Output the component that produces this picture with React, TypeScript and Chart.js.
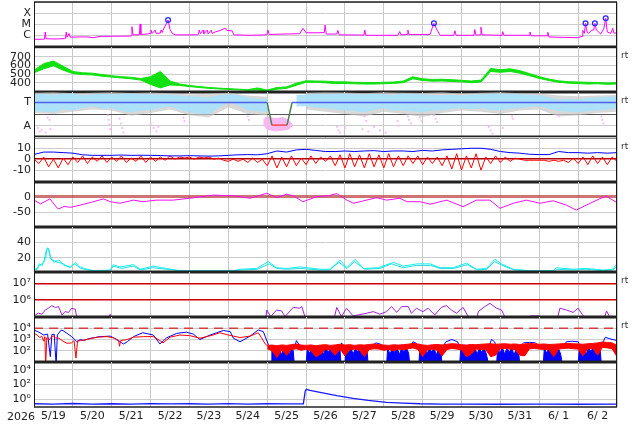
import { useEffect, useRef } from "react"
import { Chart, registerables } from "chart.js"

Chart.register(...registerables)
Chart.defaults.font.family = "DejaVu Sans, sans-serif"

// x axis: days since 5/19 00:00, labels sit at noon
const yearLabel = "2026"
const dayLabels = ["5/19", "5/20", "5/21", "5/22", "5/23", "5/24", "5/25", "5/26", "5/27", "5/28", "5/29", "5/30", "5/31", "6/ 1", "6/ 2"]

// panel 1: X-ray flux (W/m2)
const xrayTicks = [1e-7, 1e-6, 1e-5, 1e-4, 1e-3]
const xrayTickLabels = ["", "C", "M", "X", ""]
const xray = [
  [0, 4.3e-7], [0.24, 4.4e-7], [0.27, 4.5e-7], [0.29, 2e-6], [0.31, 4.8e-7], [0.57, 4.6e-7], [0.78, 5e-7], [0.81, 5.2e-7],
  [0.83, 2e-6], [0.85, 6.5e-7], [0.9, 1.5e-6], [0.93, 6.8e-7], [1.37, 7.2e-7], [1.52, 6e-7], [1.7, 8e-7], [2.09, 8.2e-7],
  [2.47, 8.5e-7], [2.5, 9e-7], [2.52, 6e-6], [2.55, 1.1e-6], [2.71, 1.1e-6], [2.73, 1.1e-5], [2.75, 1.2e-6], [2.91, 1.3e-6],
  [2.99, 1.5e-6], [3.01, 3e-6], [3.04, 1.5e-6], [3.12, 3e-6], [3.14, 1.5e-6], [3.25, 1.6e-6], [3.27, 3e-6], [3.3, 1.8e-6],
  [3.32, 3e-6], [3.4, 1.1e-5], [3.45, 2.5e-5], [3.5, 3.5e-6], [3.55, 1.6e-6], [3.63, 1.1e-6], [4.2, 1.1e-6], [4.23, 1.2e-6],
  [4.25, 3e-6], [4.28, 1.4e-6], [4.35, 3e-6], [4.37, 1.4e-6], [4.46, 3e-6], [4.48, 1.3e-6], [4.56, 3e-6], [4.58, 1.5e-6],
  [4.66, 2e-6], [4.79, 2.8e-6], [4.92, 4.4e-6], [4.96, 2.8e-6], [5.1, 2.5e-6], [5.14, 1.1e-6], [5.56, 1e-6], [5.99, 1.1e-6],
  [6.02, 3e-6], [6.05, 1.2e-6], [6.46, 1.3e-6], [6.84, 1.4e-6], [6.92, 4.4e-6], [7.0, 1.7e-6], [7.36, 1.7e-6], [7.47, 1.8e-6],
  [7.49, 8.8e-6], [7.52, 1.3e-6], [7.79, 1.3e-6], [7.82, 2.8e-6], [7.85, 1.1e-6], [8.49, 1.05e-6], [8.51, 3e-6], [8.54, 1e-6],
  [9.36, 1e-6], [9.41, 2.2e-6], [9.44, 1.1e-6], [9.6, 1.2e-6], [9.62, 3e-6], [9.65, 1.2e-6], [10.19, 1.2e-6], [10.24, 4e-6],
  [10.29, 1.26e-5], [10.37, 3e-6], [10.45, 1e-6], [10.8, 1e-6], [10.83, 2.6e-6], [10.86, 1e-6], [11.32, 1e-6], [11.34, 3.4e-6],
  [11.37, 1.05e-6], [11.48, 1.1e-6], [11.5, 5.5e-6], [11.53, 1.1e-6], [12.04, 1e-6], [12.06, 2.2e-6], [12.09, 1e-6], [12.74, 1e-6],
  [12.76, 2e-6], [12.79, 9e-7], [13.2, 9e-7], [13.22, 1.9e-6], [13.25, 7e-7], [13.99, 6e-7], [14.1, 8e-7], [14.12, 2.8e-6],
  [14.16, 1.5e-6], [14.19, 1.26e-5], [14.23, 2e-6], [14.27, 1.5e-6], [14.35, 3e-6], [14.4, 3e-6], [14.43, 1.26e-5], [14.47, 3e-6],
  [14.5, 2.5e-6], [14.58, 1.3e-6], [14.66, 4e-6], [14.71, 3.6e-5], [14.75, 2e-6], [14.84, 1.5e-6], [14.89, 4.4e-6], [14.92, 1.6e-6],
  [15, 1.6e-6],
]
const flarePeaks = [[3.45, 2.5e-5], [10.29, 1.26e-5], [14.19, 1.26e-5], [14.43, 1.26e-5], [14.71, 3.6e-5]]

// panel 2: solar wind speed (km/s), every 6 h, low / high of the noisy trace
const speedTicks = [300, 400, 500, 600, 700, 800]
const speedTickLabels = ["", "400", "500", "600", "700", ""]
const speedLo = [515, 560, 595, 545, 505, 495, 490, 475, 465, 455, 445, 430, 380, 340, 375, 368, 355, 345, 335, 328, 323, 318, 312, 314, 302, 325, 335, 370, 405, 405, 398, 392, 390, 388, 385, 385, 388, 392, 400, 445, 425, 418, 420, 415, 410, 400, 408, 530, 520, 530, 510, 480, 450, 425, 405, 395, 390, 385, 388, 382, 385]
const speedHi = [545, 620, 650, 590, 530, 515, 510, 495, 480, 470, 462, 448, 470, 530, 420, 385, 368, 356, 345, 338, 332, 326, 320, 340, 315, 345, 352, 395, 422, 420, 418, 410, 410, 405, 403, 402, 405, 408, 420, 468, 445, 438, 440, 435, 428, 420, 430, 565, 550, 560, 540, 505, 470, 442, 422, 412, 408, 405, 402, 398, 400]

// panel 3: sector polarity (T = 1, A = -1)
const sectorTicks = [-1, 0, 1]
const sectorTickLabels = ["A", "", "T"]
const sectorLine = [[0, 1], [6.0, 1], [6.12, -0.95], [6.51, -0.95], [6.64, 1], [15, 1]]
const cyanTop = [1.66, 1.7, 1.62, 1.72, 1.74, 1.6, 1.66, 1.7, 1.66, 1.72, 1.74, 1.68, 1.66, 1.62, 1.66, 1.55, 1.49, 1.45, 1.4, 1.58, 1.66, 1.6, 1.4, 1.3, 1.23, null, null, 1.6, 1.66, 1.7, 1.66, 1.72, 1.74, 1.68, 1.66, 1.7, 1.66, 1.62, 1.74, 1.7, 1.66, 1.6, 1.57, 1.62, 1.57, 1.66, 1.66, 1.72, 1.74, 1.7, 1.66, 1.62, 1.57, 1.4, 1.23, 1.3, 1.23, 1.35, 1.4, 1.45, 1.49]
const cyanBot = [0.3, 0.25, 0.2, 0.45, 0.38, 0.55, 0.72, 0.5, 0.55, 0.3, 0.21, 0.35, 0.38, 0.55, 0.72, 0.4, 0.21, 0.1, 0.04, 0.6, 1.06, 0.8, 0.38, 0.3, 0.21, null, null, 0.7, 0.72, 0.6, 0.55, 0.45, 0.38, 0.3, 0.21, 0.4, 0.55, 0.35, 0.38, 0.25, 0.21, 0.35, 0.38, 0.5, 0.55, 0.45, 0.55, 0.4, 0.38, 0.5, 0.55, 0.65, 0.72, 0.5, 0.3, 0.25, 0.21, 0.3, 0.38, 0.45, 0.55]
const grayTop = [1.85, 1.88, 1.8, 1.85, 1.88, 1.82, 1.86, 1.8, 1.7, 1.75, 1.85, 1.6, 1.5, null, 1.85, 1.88, 1.86, 1.8, 1.88, 1.85, 1.82, 1.88, 1.75, 1.85, 1.88, 1.8, 1.78, 1.6, 1.55, 1.6, 1.65]
const grayBot = [0.1, 0.0, 0.2, 0.4, 0.3, -0.15, 0.1, 0.4, -0.1, -0.3, 0.6, 0.0, -0.1, null, 0.4, 0.2, 0.0, -0.2, 0.2, 0.0, -0.25, 0.1, 0.3, 0.2, 0.0, 0.3, 0.4, -0.2, -0.1, 0.1, 0.2]
const pinkDipTop = [[5.9, -0.5], [6.0, -0.2], [6.2, -0.4], [6.4, -0.3], [6.55, -0.5], [6.65, -0.9]]
const pinkDipBot = [[5.9, -0.9], [6.0, -1.3], [6.2, -1.45], [6.4, -1.4], [6.55, -1.3], [6.65, -1.0]]
const pinkPoints = [
  [0.1, -1.2], [0.15, -1.5], [0.2, -1.35], [0.3, -1.6], [0.35, -0.3], [0.4, -0.5], [0.42, -1.3], [1.9, -0.1], [1.92, -0.5],
  [1.94, -0.9], [1.96, -1.3], [2.2, -0.4], [2.24, -0.8], [2.27, -1.2], [2.3, -1.6], [3.0, -0.9], [3.08, -1.2], [3.15, -1.5],
  [3.2, -1.1], [3.85, -0.3], [3.87, -0.6], [5.5, -0.2], [5.53, -0.5], [7.8, -1.1], [7.83, -1.4], [7.87, -1.6], [8.0, -1.2],
  [8.45, -1.3], [8.5, -0.2], [8.55, -0.6], [8.6, -1.5], [8.75, -1.1], [8.9, -1.4], [9.05, -1.6], [9.35, -0.6], [9.38, -1.0],
  [9.62, -0.2], [9.65, -0.5], [9.7, -0.8], [9.93, -0.3], [9.97, -0.6], [10.3, -0.1], [10.33, -0.4], [10.37, -0.7], [11.7, -1.1],
  [11.75, -1.4], [11.8, -1.7], [12.06, -1.2], [12.3, -0.2], [12.32, -0.4], [13.5, -0.2], [14.6, -0.2], [14.62, -0.5], [14.65, -0.8],
]

// panel 4: IMF Bt (6 h) and Bz (3 h), nT
const bTicks = [-20, -10, 0, 10, 20]
const bTickLabels = ["", "-10", "0", "10", ""]
const bt = [4.3, 6.5, 6.5, 6, 5.5, 4, 3.5, 3.5, 3.5, 3.8, 3.5, 3.6, 3.5, 3.3, 3, 3, 3.2, 3, 2.8, 3, 3.5, 4, 4.2, 4, 5, 7.5, 6.5, 8.5, 9, 8, 7, 7, 7.5, 7, 7.5, 7.8, 7, 7.5, 7.5, 7, 8, 7.5, 8.5, 9, 9.5, 10, 10, 9, 7, 6, 5.5, 4.5, 4.2, 4.2, 7, 6, 6, 5.5, 6, 5.5, 6]
const bz = [
  0, -4, 2, -7, 0, -8, 1, -5, 2, -3, 3, -4, 2, -2, 3, -3, 2, -2, 3, -3,
  1, -2, 3, -3, 2, -2, 2, -1, 3, 0, 2, 1, 2, 0, 2, 1, 2, 0, 1, -1,
  -2, 0, -2, 0, -3, 1, -3, 0, -6, 3, -8, 2, -7, 3, -6, 1, -5, 3, -4, 2,
  -2, 3, -6, 4, -8, 5, -7, 4, -8, 5, -7, 4, -8, 5, -7, 3, -6, 3, -4, 3,
  -5, 2, -4, 2, -6, 3, -9, 5, -10, 3, -8, 5, -10, 2, -4, 3, -3, 2, -2, 1,
  0, -1, -1, -1, -1, -1, -2, -1, -2, -1, -3, 1, -4, 2, -5, 3, -4, 2, -5, 2,
  -2,
]

// panel 5: Dst (nT)
const dstTicks = [-50, 0]
const dstTickLabels = ["-50", "0"]
const dst = [
  [0, -11], [0.17, -23], [0.41, -7], [0.6, -37], [0.64, -39], [0.77, -31], [0.94, -34], [1.19, -27], [1.53, -16], [1.79, -7],
  [1.96, -16], [2.21, -21], [2.56, -11], [2.81, -16], [3.15, -11], [3.58, -11], [4.01, -5], [4.61, 5], [5.13, 3], [5.56, -5],
  [5.99, 11], [6.24, -3], [6.5, 8], [6.67, 3], [6.92, -16], [7.27, 0], [7.57, 3], [7.79, 10], [8.05, -11], [8.22, -21],
  [8.82, -3], [9.07, -11], [9.42, -5], [9.59, -16], [9.93, -16], [10.19, -24], [10.62, -11], [11.04, -32], [11.38, -11], [11.73, -11],
  [11.99, -37], [12.33, -21], [12.67, -11], [13.02, -21], [13.36, -13], [13.7, -27], [13.95, -43], [14.21, -27], [14.55, -7], [14.72, 2],
  [15, -19],
]

// panel 6: two cyan traces
const cyanTicks = [20, 40]
const cyanTickLabels = ["20", "40"]
const auroraA = [
  [0, 5], [0.09, 5], [0.13, 12], [0.21, 10], [0.3, 20], [0.34, 33], [0.39, 30], [0.42, 22], [0.51, 14], [0.64, 17], [0.77, 10],
  [0.94, 8], [1.07, 14], [1.19, 8], [1.36, 5], [1.53, 3], [1.96, 3], [2.04, 11], [2.21, 8], [2.56, 11], [2.73, 5], [3.07, 9],
  [3.41, 6], [3.75, 3], [4.27, 3], [5.13, 3], [5.3, 5], [5.73, 6], [6.03, 15], [6.24, 7], [6.5, 6], [6.84, 8], [7.36, 5],
  [7.62, 5], [7.87, 17], [8.05, 7], [8.26, 18], [8.48, 6], [8.86, 7], [9.25, 14], [9.5, 9], [9.85, 12], [10.19, 12], [10.45, 7],
  [10.79, 7], [11.13, 13], [11.38, 5], [11.64, 6], [11.86, 18], [12.03, 12], [12.33, 5], [12.76, 3], [13.36, 3], [13.44, 7],
  [13.87, 5], [14.21, 6], [14.64, 4], [14.89, 5], [14.98, 11], [15, 9],
]
const auroraB = [
  [0, 4], [0.1, 7], [0.15, 10], [0.25, 14], [0.32, 30], [0.37, 32], [0.43, 18], [0.52, 16], [0.62, 14], [0.75, 12], [0.92, 7],
  [1.05, 12], [1.2, 6], [1.4, 4], [1.6, 3], [1.95, 4], [2.06, 9], [2.25, 6], [2.55, 9], [2.75, 4], [3.05, 7], [3.4, 5], [3.8, 3],
  [4.3, 3], [5.1, 3], [5.35, 4], [5.75, 5], [6.05, 12], [6.25, 6], [6.5, 5], [6.85, 6], [7.35, 4], [7.6, 4], [7.85, 14], [8.05, 6],
  [8.25, 15], [8.5, 5], [8.9, 6], [9.2, 12], [9.5, 7], [9.85, 10], [10.2, 10], [10.45, 6], [10.8, 6], [11.15, 11], [11.4, 4],
  [11.65, 5], [11.85, 15], [12.05, 10], [12.35, 4], [12.8, 3], [13.4, 3], [13.45, 5], [13.9, 4], [14.2, 5], [14.65, 3], [14.9, 4], [15, 9],
]

// panel 7: purple flux with 1e6 / 1e7 thresholds
const fluxTicks = [1e6, 1e7]
const fluxTickLabels = ["10⁶", "10⁷"]
const purple = [
  [0, 1.26e5], [0.03, 1.26e5], [0.12, 1.6e5], [0.2, 1.4e5], [0.29, 2.5e5], [0.37, 3.2e5], [0.46, 4.6e5], [0.55, 3.5e5], [0.63, 4e5],
  [0.72, 1.26e5], [0.8, 2e5], [0.89, 1.8e5], [0.97, 3.2e5], [1.06, 2.8e5], [1.12, 5e4], [1.9, 5e4], [1.96, 1.4e5], [2.0, 5e4],
  [2.73, 5e4], [2.8, 1e5], [3.2, 1e5], [3.25, 5e4], [5.7, 5e4], [5.73, 1e5], [5.76, 5e4], [5.95, 5e4], [5.99, 2.5e5], [6.09, 1e5],
  [6.24, 2.5e5], [6.37, 2.2e5], [6.46, 1e5], [6.67, 3.6e5], [6.84, 3.2e5], [6.89, 4e5], [6.97, 1e5], [7.1, 5e4], [7.7, 5e4],
  [7.79, 3.6e5], [7.91, 1e5], [8.04, 3.2e5], [8.21, 1.1e5], [8.56, 1.6e5], [8.73, 2e5], [8.9, 1.4e5], [9.07, 2e5], [9.2, 4e5],
  [9.33, 1.8e5], [9.46, 4e5], [9.63, 4e5], [9.71, 1.6e5], [9.84, 3.2e5], [10.01, 2e5], [10.14, 3.2e5], [10.31, 1.26e5], [10.48, 3.6e5],
  [10.61, 4.6e5], [10.74, 2.5e5], [10.87, 1.6e5], [11.04, 3.6e5], [11.17, 1e5], [11.3, 5e4], [11.38, 5e4], [11.43, 2e5], [11.6, 4e5],
  [11.73, 6.3e5], [11.9, 3.2e5], [12.03, 2.5e5], [12.11, 1e5], [12.2, 5e4], [12.55, 5e4], [12.58, 1e5], [12.62, 5e4], [12.7, 5e4],
  [12.76, 1.1e5], [13.01, 1.1e5], [13.1, 5e4], [13.45, 5e4], [13.53, 3.2e5], [13.7, 2.5e5], [13.87, 1.8e5], [14.0, 3.2e5],
  [14.13, 1.1e5], [14.25, 5e4], [14.4, 5e4], [14.47, 1e5], [14.55, 5e4], [14.65, 5e4], [14.73, 2.2e5], [14.81, 1e5], [14.9, 5e4], [15, 5e4],
]

// panel 8: electron flux, red and blue satellites
const elecTicks = [1e2, 1e3, 1e4]
const elecTickLabels = ["10²", "10³", "10⁴"]
const elecAlert = [[0, 1e4], [15, 1e4]]
const elecRed = [
  [0, 3500], [0.08, 2500], [0.15, 1500], [0.2, 2000], [0.25, 700], [0.28, 1800], [0.3, 5], [0.33, 1500], [0.4, 1000], [0.45, 1800],
  [0.5, 2000], [0.55, 1400], [0.64, 1300], [0.77, 630], [0.85, 460], [0.97, 500], [1.03, 800], [1.08, 22], [1.12, 700], [1.2, 800],
  [1.36, 1000], [1.62, 1600], [1.88, 1800], [2.05, 1400], [2.18, 700], [2.2, 250], [2.23, 800], [2.4, 1000], [2.56, 1600], [2.82, 1800],
  [3.07, 1800], [3.24, 800], [3.32, 500], [3.5, 1600], [3.75, 2500], [4.01, 2200], [4.27, 1300], [4.61, 2500], [4.78, 4000], [5.0, 2500],
  [5.3, 1500], [5.56, 2000], [5.77, 4000], [5.85, 1500], [5.95, 400], [6.0, 300],
]
// from 6.0 every 3 h
const elecRedHi = [
  300, 320, 280, 330, 300, 350, 400, 320, 300, 330, 280, 320, 350, 300, 330, 380, 320, 350, 300, 340, 320, 360, 400, 350,
  320, 300, 340, 320, 350, 380, 450, 400, 330, 300, 340, 360, 330, 380, 420, 400, 350, 320, 360, 340, 380, 400, 420, 380,
  400, 420, 380, 400, 360, 400, 450, 420, 380, 400, 360, 380, 400, 430, 450, 420, 400, 380, 420, 450, 500, 600, 550, 500, 300,
]
const elecRedLo = [
  150, 100, 25, 120, 40, 130, 150, 110, 140, 100, 30, 50, 130, 120, 40, 140, 35, 120, 140, 110, 30, 130, 150, 140,
  110, 130, 100, 140, 120, 150, 180, 130, 30, 120, 140, 110, 35, 130, 160, 140, 120, 30, 50, 140, 130, 120, 30, 40,
  150, 160, 140, 130, 40, 35, 150, 160, 140, 130, 120, 30, 140, 160, 170, 150, 140, 35, 150, 160, 40, 200, 180, 150, 30,
]
const elecBlue = [
  [0, 6900], [0.1, 5000], [0.25, 2500], [0.35, 3000], [0.42, 30], [0.46, 2800], [0.52, 3000], [0.57, 5], [0.6, 2500], [0.7, 6900],
  [0.75, 6000], [0.85, 3500], [0.97, 1800], [1.1, 660], [1.2, 1000], [1.27, 800], [1.44, 1260], [1.7, 1800], [1.96, 2000], [2.13, 1000],
  [2.3, 400], [2.4, 630], [2.56, 1800], [2.8, 4000], [3.07, 2500], [3.24, 400], [3.41, 1400], [3.67, 3500], [3.92, 4500], [4.1, 3000],
  [4.27, 1000], [4.53, 2500], [4.7, 4000], [4.87, 6300], [5.05, 5000], [5.13, 1300], [5.3, 630], [5.56, 2000], [5.77, 7000], [5.9, 5000],
  [6.03, 350], [6.11, 150], [6.7, 150], [6.75, 800], [6.85, 250], [7.0, 200], [7.9, 160], [7.91, 500], [8.0, 200], [8.6, 180],
  [8.8, 500], [8.9, 400], [9.07, 200], [9.67, 180], [9.75, 630], [9.84, 450], [9.9, 200], [10.5, 200], [10.6, 630], [10.75, 1000],
  [10.9, 630], [10.95, 200], [11.7, 200], [11.77, 1000], [11.85, 630], [11.9, 200], [12.5, 250], [12.6, 500], [12.75, 560], [12.9, 500],
  [13.0, 250], [13.1, 200], [13.6, 200], [13.7, 630], [13.85, 700], [14.0, 630], [14.05, 250], [14.6, 300], [14.7, 1600], [14.8, 1200], [15.0, 800],
]
const elecBlueBursts = [
  [6.1, 5], [6.12, 150], [6.17, 50], [6.22, 180], [6.27, 70], [6.32, 200], [6.37, 40], [6.42, 160], [6.47, 90], [6.52, 200], [6.57, 50], [6.62, 150], [6.67, 100], [6.7, 5], [6.71, null],
  [7.0, 5], [7.03, 160], [7.09, 60], [7.15, 180], [7.21, 40], [7.27, 150], [7.33, 80], [7.39, 200], [7.45, 50], [7.51, 170], [7.57, 70], [7.63, 190], [7.69, 45], [7.75, 160], [7.81, 90], [7.87, 180], [7.9, 5], [7.91, null],
  [8.0, 5], [8.03, 170], [8.09, 60], [8.15, 190], [8.21, 50], [8.27, 160], [8.33, 80], [8.39, 200], [8.45, 40], [8.51, 150], [8.57, 90], [8.6, 5], [8.61, null],
  [9.07, 5], [9.1, 160], [9.16, 50], [9.22, 180], [9.28, 70], [9.34, 200], [9.4, 45], [9.46, 170], [9.52, 80], [9.58, 190], [9.64, 60], [9.67, 5], [9.68, null],
  [9.9, 5], [9.93, 180], [9.99, 60], [10.05, 200], [10.11, 50], [10.17, 170], [10.23, 80], [10.29, 190], [10.35, 40], [10.41, 160], [10.47, 90], [10.5, 5], [10.51, null],
  [10.95, 5], [10.98, 170], [11.04, 60], [11.1, 190], [11.16, 40], [11.22, 160], [11.28, 90], [11.34, 200], [11.4, 50], [11.46, 170], [11.52, 70], [11.58, 180], [11.64, 50], [11.7, 5], [11.71, null],
  [11.9, 5], [11.93, 190], [11.99, 60], [12.05, 200], [12.11, 50], [12.17, 180], [12.23, 70], [12.29, 200], [12.35, 40], [12.41, 170], [12.47, 80], [12.5, 5], [12.51, null],
  [13.1, 5], [13.13, 170], [13.19, 60], [13.25, 190], [13.31, 45], [13.37, 160], [13.43, 80], [13.49, 180], [13.55, 50], [13.6, 5], [13.61, null],
  [14.0, 5], [14.03, 200], [14.09, 70], [14.15, 220], [14.21, 50], [14.27, 200], [14.33, 80], [14.39, 230], [14.45, 60], [14.51, 200], [14.57, 90], [14.6, 5],
]

// panel 9: proton flux
const protonTicks = [1, 1e2, 1e4]
const protonTickLabels = ["10⁰", "10²", "10⁴"]
const proton = [
  [0, 0.22], [0.5, 0.2], [1, 0.24], [1.5, 0.2], [2, 0.22], [2.5, 0.2], [3, 0.23], [3.5, 0.21], [4, 0.22], [4.5, 0.2], [5, 0.23],
  [5.5, 0.2], [6, 0.22], [6.5, 0.21], [6.93, 0.22], [6.98, 14], [7.01, 22], [7.1, 16], [7.36, 8.4], [7.79, 2.9], [8.21, 1.26],
  [8.6, 0.65], [9.07, 0.35], [9.5, 0.27], [9.93, 0.22], [10.5, 0.2], [11, 0.2], [12, 0.19], [13, 0.2], [14, 0.19], [15, 0.2],
]

const GRID = "#cccccc"
const TEXT = "#222222"
const tickFont = { family: "DejaVu Sans", size: 11 }

const pts = (pairs) => pairs.map(([x, y]) => ({ x, y }))
const even = (start, step, values) => values.map((y, i) => ({ x: start + i * step, y }))

const framePlugin = {
  id: "frame",
  afterDraw(chart, _args, opts) {
    const { ctx, chartArea: a } = chart
    ctx.save()
    ctx.strokeStyle = "#1a1a1a"
    ctx.lineWidth = 1
    ctx.beginPath()
    ctx.moveTo(a.left + 0.5, a.top)
    ctx.lineTo(a.left + 0.5, a.bottom)
    ctx.moveTo(a.right - 0.5, a.top)
    ctx.lineTo(a.right - 0.5, a.bottom)
    ctx.stroke()
    ctx.strokeStyle = "#222"
    if (opts.bottom) {
      ctx.lineWidth = opts.bottom
      ctx.beginPath()
      ctx.moveTo(a.left, a.bottom)
      ctx.lineTo(a.right, a.bottom)
      ctx.stroke()
    }
    if (opts.top) {
      ctx.lineWidth = opts.top
      ctx.beginPath()
      ctx.moveTo(a.left, a.top)
      ctx.lineTo(a.right, a.top)
      ctx.stroke()
    }
    ctx.restore()
  },
}

function yAxis(type, min, max, tickValues, tickLabels, lineColor?, lineWidth?) {
  return {
    type,
    min,
    max,
    position: "left",
    afterFit: (s) => {
      s.width = 34
      s.paddingTop = 0
      s.paddingBottom = 0
    },
    afterBuildTicks: (s) => {
      s.ticks = tickValues.map((value) => ({ value }))
    },
    ticks: {
      autoSkip: false,
      padding: 3,
      color: TEXT,
      font: tickFont,
      callback: (_v, i) => tickLabels[i],
    },
    grid: {
      drawTicks: false,
      color: (ctx) => (lineColor && ctx.tick ? lineColor(ctx.tick.value) : undefined) || GRID,
      lineWidth: (ctx) => (lineWidth && ctx.tick ? lineWidth(ctx.tick.value) : undefined) || 1,
    },
    border: { display: false },
  }
}

function xAxis(last) {
  const ticks = last ? Array.from({ length: 31 }, (_, i) => i / 2) : Array.from({ length: 16 }, (_, i) => i)
  return {
    type: "linear",
    min: 0,
    max: 15,
    afterBuildTicks: (s) => {
      s.ticks = ticks.map((value) => ({ value }))
    },
    afterFit: (s) => {
      s.height = last ? 18 : 0
      s.paddingLeft = 0
      s.paddingRight = 0
    },
    grid: {
      drawTicks: false,
      color: (ctx) => (ctx.tick && Number.isInteger(ctx.tick.value) ? "#c8c8c8" : "rgba(0,0,0,0)"),
    },
    border: { display: false },
    ticks: {
      display: last,
      autoSkip: false,
      maxRotation: 0,
      padding: 3,
      color: TEXT,
      font: tickFont,
      callback: (v) => (Number.isInteger(v) ? "" : dayLabels[Math.floor(v)]),
    },
  }
}

function Panel({ index, y, build, last = false, topLine = 0 }) {
  const canvasRef = useRef<HTMLCanvasElement>(null)

  useEffect(() => {
    if (!canvasRef.current) return
    const chart = new Chart(canvasRef.current, {
      type: "line",
      data: { datasets: build() },
      options: {
        responsive: true,
        maintainAspectRatio: false,
        animation: false,
        events: [],
        layout: { padding: { top: 2, bottom: last ? 0 : 2, left: 0, right: 17 }, autoPadding: false },
        elements: { point: { radius: 0 }, line: { borderWidth: 1, tension: 0 } },
        plugins: {
          legend: { display: false },
          tooltip: { enabled: false },
          frame: { top: topLine, bottom: last ? 1.5 : 3 },
        },
        scales: { x: xAxis(last), y },
      },
      plugins: [framePlugin],
    })
    return () => chart.destroy()
  }, [])

  const height = last ? 65 : 49
  return (
    <div style={{ position: "absolute", left: 0, top: 45 * index, width: 634, height }}>
      <canvas ref={canvasRef} />
    </div>
  )
}

const PINK = "rgba(246,180,240,0.95)"
const CYAN = "rgba(170,226,250,0.95)"

const panels = [
  {
    y: yAxis("logarithmic", 8.5e-8, 1.12e-3, xrayTicks, xrayTickLabels),
    topLine: 1.5,
    build: () => [
      { data: pts(flarePeaks), showLine: false, pointRadius: 2.4, pointBorderWidth: 1.3, pointBorderColor: "#2a2aff", pointBackgroundColor: "rgba(0,0,0,0)" },
      { data: pts(xray), borderColor: "#ff00ff" },
    ],
  },
  {
    y: yAxis("linear", 293, 812, speedTicks, speedTickLabels),
    build: () => [
      { data: even(0, 0.25, speedHi), borderColor: "#11e011", backgroundColor: "#11e011", fill: "+1" },
      { data: even(0, 0.25, speedLo), borderColor: "#11e011" },
    ],
  },
  {
    y: yAxis("linear", -1.98, 1.91, sectorTicks, sectorTickLabels, (v) => (v === 0 ? "#555555" : undefined)),
    build: () => [
      {
        data: pts(sectorLine),
        borderWidth: 1.5,
        borderColor: "#4f5fef",
        segment: {
          borderColor: (ctx) => {
            const a = ctx.p0.parsed.y
            const b = ctx.p1.parsed.y
            if (a > 0.9 && b > 0.9) return "#4f5fef"
            if (a < -0.9 && b < -0.9) return "#ff4545"
            return "#4f7f55"
          },
        },
      },
      { data: pts(pinkPoints), showLine: false, pointStyle: "rect", pointRadius: 1.3, pointBorderWidth: 0, pointBackgroundColor: PINK },
      { data: pts(pinkDipTop), borderColor: PINK, backgroundColor: PINK, fill: "+1" },
      { data: pts(pinkDipBot), borderColor: PINK },
      { data: even(0, 0.25, cyanTop), borderColor: CYAN, backgroundColor: CYAN, fill: "+1" },
      { data: even(0, 0.25, cyanBot), borderColor: CYAN },
      { data: even(0, 0.5, grayTop), borderColor: "rgba(0,0,0,0)", backgroundColor: "rgba(200,200,200,0.7)", fill: "+1" },
      { data: even(0, 0.5, grayBot), borderColor: "rgba(0,0,0,0)" },
    ],
  },
  {
    y: yAxis("linear", -20.9, 20.3, bTicks, bTickLabels, (v) => (v === 0 ? "#b00000" : undefined), (v) => (v === 0 ? 1.5 : 1)),
    build: () => [
      { data: even(0, 0.25, bt), borderColor: "#0000ff" },
      { data: even(0, 0.125, bz), borderColor: "#ff0000" },
    ],
  },
  {
    y: yAxis("linear", -97, 47, dstTicks, dstTickLabels, (v) => (v === 0 ? "rgba(190,70,70,0.75)" : undefined), (v) => (v === 0 ? 3 : 1)),
    build: () => [{ data: pts(dst), borderColor: "#ee11ee" }],
  },
  {
    y: yAxis("linear", 1.4, 60, cyanTicks, cyanTickLabels),
    build: () => [
      { data: pts(auroraA), borderColor: "#11eeee" },
      { data: pts(auroraB), borderColor: "#22dddd" },
    ],
  },
  {
    y: yAxis("logarithmic", 9.5e4, 4.8e7, fluxTicks, fluxTickLabels, () => "#cc0000", () => 1.5),
    build: () => [{ data: pts(purple), borderColor: "#a020d8" }],
  },
  {
    y: yAxis("logarithmic", 10, 1e5, elecTicks, elecTickLabels),
    build: () => [
      { data: pts(elecAlert), borderColor: "#d04040", borderWidth: 1.5, borderDash: [9, 6] },
      { data: even(6, 0.125, elecRedHi), borderColor: "#ff0000", backgroundColor: "#ff0000", fill: "+1" },
      { data: even(6, 0.125, elecRedLo), borderColor: "#ff0000" },
      { data: pts(elecRed), borderColor: "#ff0000" },
      { data: pts(elecBlue), borderColor: "#0000ff" },
      { data: pts(elecBlueBursts), borderColor: "#0000ff", backgroundColor: "#0000ff", fill: "start" },
    ],
  },
  {
    y: yAxis("logarithmic", 0.079, 1.26e5, protonTicks, protonTickLabels),
    last: true,
    build: () => [{ data: pts(proton), borderColor: "#1a1aff", borderWidth: 1.3 }],
  },
]

const rtMarks = [56, 101, 147, 281, 326]

export default function App() {
  return (
    <div style={{ position: "fixed", left: 0, top: 0, width: 634, height: 424, background: "#fff", fontFamily: "DejaVu Sans, sans-serif", overflow: "hidden" }}>
      {panels.map((p, i) => (
        <Panel key={i} index={i} {...p} />
      ))}
      <div style={{ position: "absolute", left: 7, top: 410, fontSize: 11, lineHeight: "14px", color: TEXT }}>{yearLabel}</div>
      {rtMarks.map((t) => (
        <div key={t} style={{ position: "absolute", left: 621, top: t - 6, fontSize: 9, lineHeight: "11px", color: "#333" }}>
          rt
        </div>
      ))}
    </div>
  )
}
